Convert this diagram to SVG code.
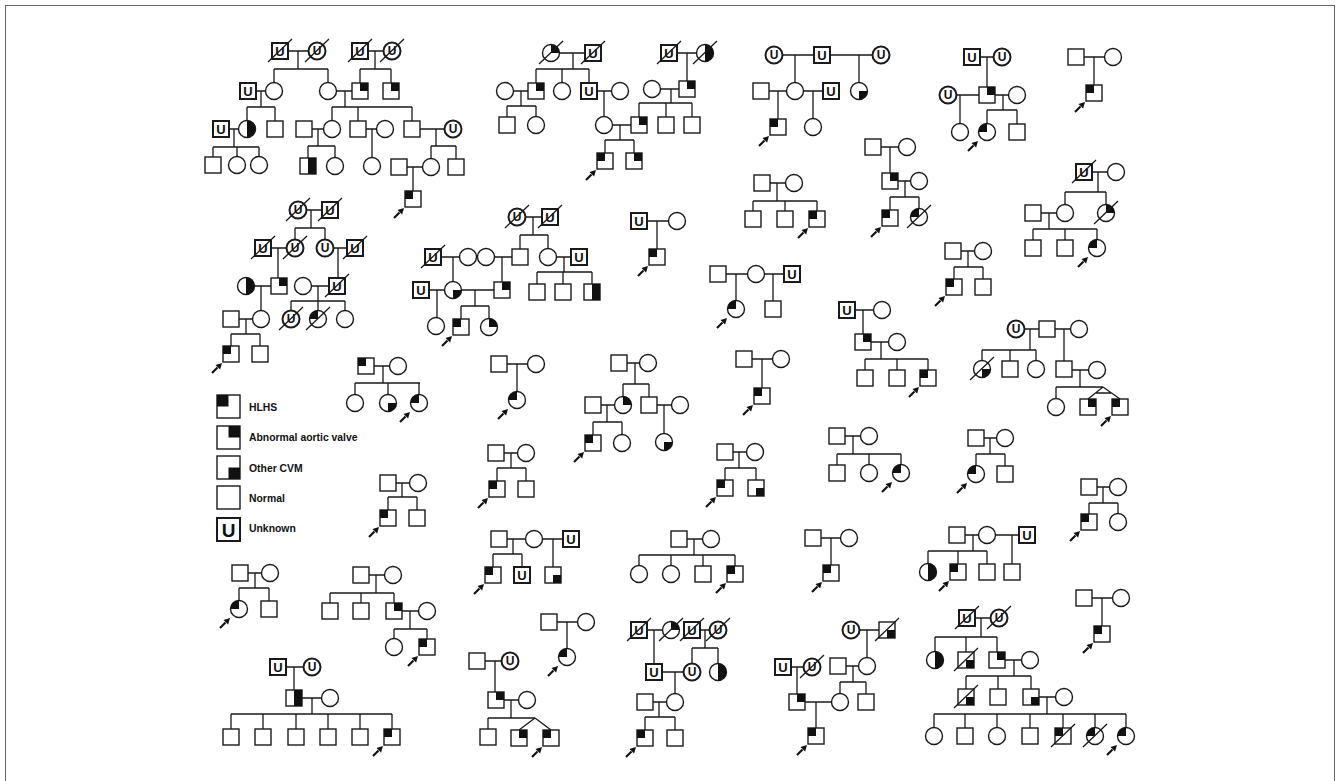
<svg xmlns="http://www.w3.org/2000/svg" width="1340" height="781" viewBox="0 0 1340 781">
<style>
.o{fill:#fff;stroke:#1a1a1a;stroke-width:1.4}
.ob{fill:#fff;stroke:#1a1a1a;stroke-width:2}
.k{fill:#111}
.l{fill:none;stroke:#1a1a1a;stroke-width:1.3}
.u{font-family:"Liberation Sans",Arial,sans-serif;font-weight:bold;fill:#111;text-anchor:middle}
.lg{font-family:"Liberation Sans",Arial,sans-serif;font-weight:bold;font-size:10.4px;fill:#111}
</style>
<defs>
<g id="S"><rect class="o" x="-8" y="-8" width="16" height="16"/></g>
<g id="C"><circle class="o" r="8.5"/></g>
<g id="SHL"><use href="#S"/><rect class="k" x="-8" y="-8" width="8" height="8"/></g>
<g id="SAV"><use href="#S"/><rect class="k" x="0" y="-8" width="8" height="8"/></g>
<g id="SOC"><use href="#S"/><rect class="k" x="0" y="0" width="8" height="8"/></g>
<g id="SHF"><use href="#S"/><rect class="k" x="0" y="-8" width="8" height="16"/></g>
<g id="CHL"><use href="#C"/><path class="k" d="M0,0H-8.5A8.5,8.5 0 0 1 0,-8.5Z"/></g>
<g id="CAV"><use href="#C"/><path class="k" d="M0,0V-8.5A8.5,8.5 0 0 1 8.5,0Z"/></g>
<g id="COC"><use href="#C"/><path class="k" d="M0,0H8.5A8.5,8.5 0 0 1 0,8.5Z"/></g>
<g id="CHF"><use href="#C"/><path class="k" d="M0,-8.5A8.5,8.5 0 0 1 0,8.5Z"/></g>
<g id="SU"><rect class="ob" x="-8" y="-8" width="16" height="16"/><text class="u" y="4.8" font-size="13">U</text></g>
<g id="CU"><circle class="ob" r="8.5"/><text class="u" y="4.3" font-size="12">U</text></g>
<g id="D"><line class="l" x1="-12" y1="11" x2="12" y2="-12"/></g>
<g id="A"><path d="M-19,19L-13.5,13.5" stroke="#111" stroke-width="2.2"/><polygon class="k" points="-9,9 -10.9,15.5 -15.5,10.9"/></g>
</defs>
<rect x="0" y="0" width="1340" height="781" fill="#fff"/>
<rect x="5.5" y="5.5" width="1329" height="800" fill="none" stroke="#666" stroke-width="1"/>

<g id="connectors" class="l">
<path id="c-A" d="M280,51H317M298,51V69M274,69H328M274,69V91M328,69V91M360,51H392M375,51V69M360,69H391M360,69V91M391,69V91M248,91H274M261,91V107M247,107H275M247,107V129M275,107V129M328,91H360M345,91V107M332,107H412M332,107V129M358,107V129M412,107V129M221,129H247M234,129V147M213,147H259M213,147V165M237,147V165M259,147V165M304,129H332M318,129V146M308,146H335M308,146V166M335,146V166M358,129H385M372,129V166M412,129H453M436,129V146M431,146H456M431,146V167M456,146V167M399,167H431M413,167V199"/>
<path id="c-B" d="M551,53H593M573,53V69M536,69H589M536,69V91M562,69V91M589,69V91M505,91H536M521,91V106M507,106H536M507,106V125M536,106V125M589,91H620M604,91V125M669,53H705M687,53V89M652,89H687M671,89V103M639,103H692M639,103V125M666,103V125M692,103V125M604,125H639M620,125V140M605,140H634M605,140V161M634,140V161"/>
<path id="c-C" d="M774,55H881M795,55V91M859,55V91M761,91H831M778,91V127M813,91V127"/>
<path id="c-D" d="M972,57H1002M987,57V95M948,95H1017M960,95V132M1003,95V110M987,110H1017M987,110V132M1017,110V132"/>
<path id="c-E" d="M1076,57H1113M1094,57V93"/>
<path id="c-F" d="M1084,172H1116M1098,172V192M1065,192H1106M1065,192V213M1106,192V213M1033,213H1065M1049,213V229M1033,229H1097M1033,229V248M1065,229V248M1097,229V248"/>
<path id="c-G" d="M762,183H794M777,183V201M753,201H817M753,201V219M785,201V219M817,201V219"/>
<path id="c-H" d="M873,147H907M890,147V181M890,181H919M905,181V197M890,197H919M890,197V218M919,197V217"/>
<path id="c-I" d="M298,210H330M311,210V228M295,228H325M295,228V248M325,228V248M263,248H295M278,248V286M325,248H355M338,248V286M246,286H279M261,286V319M303,286H337M318,286V301M291,301H345M291,301V319M318,301V319M345,301V319M231,319H261M246,319V334M231,334H260M231,334V354M260,334V354"/>
<path id="c-Ib" d="M517,217H550M533,217V235M520,235H548M520,235V257M548,235V257M433,257H468M453,257V290M486,257H520M502,257V290M548,257H579M564,257V272M537,272H592M537,272V292M563,272V292M592,272V292M421,290H502M437,290V326M475,290V306M461,306H489M461,306V327M489,306V327"/>
<path id="c-J" d="M639,221H677M657,221V257"/>
<path id="c-K" d="M718,274H792M736,274V309M773,274V309"/>
<path id="c-L" d="M847,310H882M863,310V342M863,342H897M881,342V359M865,359H928M865,359V378M897,359V378M928,359V378"/>
<path id="c-M" d="M744,359H781M762,359V396"/>
<path id="c-N" d="M725,452H755M739,452V468M725,468H756M725,468V488M756,468V488"/>
<path id="c-O" d="M837,436H869M853,436V454M837,454H901M837,454V473M869,454V473M901,454V473"/>
<path id="c-P" d="M1016,329H1079M1030,329V350M982,350H1036M982,350V369M1010,350V369M1036,350V369M1064,329V369M1064,370H1097M1080,370V387M1056,387H1103M1056,387V407M1103,387L1088,399M1103,387L1120,399M1096,393H1111"/>
<path id="c-Q" d="M976,438H1005M990,438V454M976,454H1005M976,454V474M1005,454V474"/>
<path id="c-R" d="M1089,487H1118M1103,487V503M1089,503H1118M1089,503V522M1118,503V522"/>
<path id="c-S" d="M953,251H983M968,251V267M954,267H983M954,267V287M983,267V287"/>
<path id="c-T" d="M499,364H536M517,364V400"/>
<path id="c-U" d="M619,363H648M635,363V384M623,384H649M623,384V405M649,384V405M593,405H623M649,405H680M607,405V422M593,422H622M593,422V443M622,422V443M664,405V442"/>
<path id="c-V" d="M496,453H526M511,453V468M497,468H526M497,468V489M526,468V489"/>
<path id="c-W" d="M366,366H398M383,366V383M355,383H420M355,383V403M388,383V403M419,383V403"/>
<path id="c-X" d="M388,483H418M402,483V497M388,497H417M388,497V518M417,497V518"/>
<path id="c-Y" d="M240,573H270M255,573V588M239,588H269M239,588V609M269,588V609"/>
<path id="c-Z" d="M361,575H393M376,575V593M330,593H394M330,593V611M361,593V611M394,593V611M394,611H427M410,611V629M394,629H427M394,629V647M427,629V647"/>
<path id="c-AA" d="M278,667H312M294,667V698M294,698H330M312,698V714M231,714H392M231,714V737M263,714V737M296,714V737M328,714V737M360,714V737M392,714V737"/>
<path id="c-AB" d="M499,539H571M513,539V554M493,554H522M493,554V575M522,554V575M553,539V575"/>
<path id="c-AC" d="M679,539H711M694,539V555M639,555H735M639,555V574M671,555V574M703,555V574M735,555V574"/>
<path id="c-AD" d="M813,538H849M831,538V573"/>
<path id="c-AE" d="M957,535H1027M973,535V551M928,551H987M928,551V572M958,551V572M987,551V572M1012,535V572"/>
<path id="c-AF" d="M1084,598H1121M1102,598V634"/>
<path id="c-AG" d="M967,618H999M981,618V637M935,637H997M935,637V660M966,637V660M997,637V660M997,660H1030M1014,660V676M966,676H1031M966,676V697M998,676V697M1031,676V697M1031,697H1064M1047,697V714M934,714H1126M934,714V736M965,714V736M997,714V736M1030,714V736M1063,714V736M1095,714V736M1126,714V736"/>
<path id="c-AH" d="M639,630H671M654,630V672M692,630H718M705,630V648M692,648H718M692,648V672M718,648V672M654,672H692M675,672V702M645,702H675M659,702V717M645,717H675M645,717V738M675,717V738"/>
<path id="c-AI" d="M477,661H510M495,661V700M496,700H527M511,700V718M488,718H535M488,718V737M535,718L519,730M535,718L551,730"/>
<path id="c-AJ" d="M549,622H586M567,622V657"/>
<path id="c-AK" d="M851,630H887M867,630V666M838,666H867M853,666V682M840,682H866M840,682V702M866,682V702M783,667H812M797,667V702M797,702H840M816,702V736"/>
</g>

<g id="ped-A">
<g id="a1" transform="translate(280,51)"><use href="#SU"/><use href="#D"/></g>
<g id="a2" transform="translate(317,51)"><use href="#CU"/><use href="#D"/></g>
<g id="a3" transform="translate(360,51)"><use href="#SU"/><use href="#D"/></g>
<g id="a4" transform="translate(392,51)"><use href="#CU"/><use href="#D"/></g>
<use id="a5" href="#SU" x="248" y="91"/>
<use id="a6" href="#C" x="274" y="91"/>
<use id="a7" href="#C" x="328" y="91"/>
<use id="a8" href="#SAV" x="360" y="91"/>
<use id="a9" href="#SAV" x="391" y="91"/>
<use id="a10" href="#SU" x="221" y="129"/>
<use id="a11" href="#CHF" x="247" y="129"/>
<use id="a12" href="#S" x="275" y="129"/>
<use id="a13" href="#S" x="304" y="129"/>
<use id="a14" href="#C" x="332" y="129"/>
<use id="a15" href="#S" x="358" y="129"/>
<use id="a16" href="#C" x="385" y="129"/>
<use id="a17" href="#S" x="412" y="129"/>
<use id="a18" href="#CU" x="453" y="129"/>
<use id="a19" href="#S" x="213" y="165"/>
<use id="a20" href="#C" x="237" y="165"/>
<use id="a21" href="#C" x="259" y="165"/>
<use id="a22" href="#SHF" x="308" y="166"/>
<use id="a23" href="#C" x="335" y="166"/>
<use id="a24" href="#C" x="372" y="166"/>
<use id="a25" href="#S" x="399" y="167"/>
<use id="a26" href="#C" x="431" y="167"/>
<use id="a27" href="#S" x="456" y="167"/>
<g id="a28" transform="translate(413,199)"><use href="#SHL"/><use href="#A"/></g>
</g>

<g id="ped-B">
<g id="b1" transform="translate(551,53)"><use href="#CAV"/><use href="#D"/></g>
<g id="b2" transform="translate(593,53)"><use href="#SU"/><use href="#D"/></g>
<use id="b3" href="#C" x="505" y="91"/>
<use id="b4" href="#SAV" x="536" y="91"/>
<use id="b5" href="#C" x="562" y="91"/>
<use id="b6" href="#SU" x="589" y="91"/>
<use id="b7" href="#C" x="620" y="91"/>
<use id="b8" href="#S" x="507" y="125"/>
<use id="b9" href="#C" x="536" y="125"/>
<use id="b10" href="#C" x="604" y="125"/>
<use id="b11" href="#SAV" x="639" y="125"/>
<use id="b12" href="#S" x="666" y="125"/>
<use id="b13" href="#S" x="692" y="125"/>
<g id="b14" transform="translate(605,161)"><use href="#SHL"/><use href="#A"/></g>
<use id="b15" href="#SAV" x="634" y="161"/>
<g id="b16" transform="translate(669,53)"><use href="#SU"/><use href="#D"/></g>
<g id="b17" transform="translate(705,53)"><use href="#CHF"/><use href="#D"/></g>
<use id="b18" href="#C" x="652" y="89"/>
<use id="b19" href="#SAV" x="687" y="89"/>
</g>

<g id="ped-C">
<use id="c1" href="#CU" x="774" y="55"/>
<use id="c2" href="#SU" x="822" y="55"/>
<use id="c3" href="#CU" x="881" y="55"/>
<use id="c4" href="#S" x="761" y="91"/>
<use id="c5" href="#C" x="795" y="91"/>
<use id="c6" href="#SU" x="831" y="91"/>
<use id="c7" href="#COC" x="859" y="91"/>
<g id="c8" transform="translate(778,127)"><use href="#SHL"/><use href="#A"/></g>
<use id="c9" href="#C" x="813" y="127"/>
</g>

<g id="ped-D">
<use id="d1" href="#SU" x="972" y="57"/>
<use id="d2" href="#CU" x="1002" y="57"/>
<use id="d3" href="#CU" x="948" y="95"/>
<use id="d4" href="#SAV" x="987" y="95"/>
<use id="d5" href="#C" x="1017" y="95"/>
<use id="d6" href="#C" x="960" y="132"/>
<g id="d7" transform="translate(987,132)"><use href="#CHL"/><use href="#A"/></g>
<use id="d8" href="#S" x="1017" y="132"/>
</g>

<g id="ped-E">
<use id="e1" href="#S" x="1076" y="57"/>
<use id="e2" href="#C" x="1113" y="57"/>
<g id="e3" transform="translate(1094,93)"><use href="#SHL"/><use href="#A"/></g>
</g>

<g id="ped-F">
<g id="f1" transform="translate(1084,172)"><use href="#SU"/><use href="#D"/></g>
<use id="f2" href="#C" x="1116" y="172"/>
<use id="f3" href="#S" x="1033" y="213"/>
<use id="f4" href="#C" x="1065" y="213"/>
<g id="f5" transform="translate(1106,213)"><use href="#CAV"/><use href="#D"/></g>
<use id="f6" href="#S" x="1033" y="248"/>
<use id="f7" href="#S" x="1065" y="248"/>
<g id="f8" transform="translate(1097,248)"><use href="#CHL"/><use href="#A"/></g>
</g>

<g id="ped-G">
<use id="g1" href="#S" x="762" y="183"/>
<use id="g2" href="#C" x="794" y="183"/>
<use id="g3" href="#S" x="753" y="219"/>
<use id="g4" href="#S" x="785" y="219"/>
<g id="g5" transform="translate(817,219)"><use href="#SHL"/><use href="#A"/></g>
</g>

<g id="ped-H">
<use id="h1" href="#S" x="873" y="147"/>
<use id="h2" href="#C" x="907" y="147"/>
<use id="h3" href="#SAV" x="890" y="181"/>
<use id="h4" href="#C" x="919" y="181"/>
<g id="h5" transform="translate(890,218)"><use href="#SHL"/><use href="#A"/></g>
<g id="h6" transform="translate(919,217)"><use href="#CHL"/><use href="#D"/></g>
</g>

<g id="ped-I">
<g id="i1" transform="translate(298,210)"><use href="#CU"/><use href="#D"/></g>
<g id="i2" transform="translate(330,210)"><use href="#SU"/><use href="#D"/></g>
<g id="i3" transform="translate(263,248)"><use href="#SU"/><use href="#D"/></g>
<g id="i4" transform="translate(295,248)"><use href="#CU"/><use href="#D"/></g>
<use id="i5" href="#CU" x="325" y="248"/>
<g id="i6" transform="translate(355,248)"><use href="#SU"/><use href="#D"/></g>
<use id="i7" href="#CHF" x="246" y="286"/>
<use id="i8" href="#SAV" x="279" y="286"/>
<use id="i9" href="#C" x="303" y="286"/>
<g id="i10" transform="translate(337,286)"><use href="#SU"/><use href="#D"/></g>
<use id="i11" href="#S" x="231" y="319"/>
<use id="i12" href="#C" x="261" y="319"/>
<g id="i13" transform="translate(291,319)"><use href="#CU"/><use href="#D"/></g>
<g id="i14" transform="translate(318,319)"><use href="#CHL"/><use href="#D"/></g>
<use id="i15" href="#C" x="345" y="319"/>
<g id="i16" transform="translate(231,354)"><use href="#SHL"/><use href="#A"/></g>
<use id="i17" href="#S" x="260" y="354"/>
</g>

<g id="ped-Ib">
<g id="ib1" transform="translate(517,217)"><use href="#CU"/><use href="#D"/></g>
<g id="ib2" transform="translate(550,217)"><use href="#SU"/><use href="#D"/></g>
<g id="ib3" transform="translate(433,257)"><use href="#SU"/><use href="#D"/></g>
<use id="ib4" href="#C" x="468" y="257"/>
<use id="ib5" href="#C" x="486" y="257"/>
<use id="ib6" href="#S" x="520" y="257"/>
<use id="ib7" href="#C" x="548" y="257"/>
<use id="ib8" href="#SU" x="579" y="257"/>
<use id="ib9" href="#SU" x="421" y="290"/>
<use id="ib10" href="#COC" x="453" y="290"/>
<use id="ib11" href="#SAV" x="502" y="290"/>
<use id="ib12" href="#S" x="537" y="292"/>
<use id="ib13" href="#S" x="563" y="292"/>
<use id="ib14" href="#SHF" x="592" y="292"/>
<use id="ib15" href="#C" x="436" y="326"/>
<g id="ib16" transform="translate(461,327)"><use href="#SHL"/><use href="#A"/></g>
<use id="ib17" href="#CAV" x="489" y="327"/>
</g>

<g id="ped-J">
<use id="j1" href="#SU" x="639" y="221"/>
<use id="j2" href="#C" x="677" y="221"/>
<g id="j3" transform="translate(657,257)"><use href="#SHL"/><use href="#A"/></g>
</g>

<g id="ped-K">
<use id="k1" href="#S" x="718" y="274"/>
<use id="k2" href="#C" x="756" y="274"/>
<use id="k3" href="#SU" x="792" y="274"/>
<g id="k4" transform="translate(736,309)"><use href="#CHL"/><use href="#A"/></g>
<use id="k5" href="#S" x="773" y="309"/>
</g>

<g id="ped-L">
<use id="l1" href="#SU" x="847" y="310"/>
<use id="l2" href="#C" x="882" y="310"/>
<use id="l3" href="#SAV" x="863" y="342"/>
<use id="l4" href="#C" x="897" y="342"/>
<use id="l5" href="#S" x="865" y="378"/>
<use id="l6" href="#S" x="897" y="378"/>
<g id="l7" transform="translate(928,378)"><use href="#SHL"/><use href="#A"/></g>
</g>

<g id="ped-M">
<use id="m1" href="#S" x="744" y="359"/>
<use id="m2" href="#C" x="781" y="359"/>
<g id="m3" transform="translate(762,396)"><use href="#SHL"/><use href="#A"/></g>
</g>

<g id="ped-N">
<use id="n1" href="#S" x="725" y="452"/>
<use id="n2" href="#C" x="755" y="452"/>
<g id="n3" transform="translate(725,488)"><use href="#SHL"/><use href="#A"/></g>
<use id="n4" href="#SOC" x="756" y="488"/>
</g>

<g id="ped-O">
<use id="o1" href="#S" x="837" y="436"/>
<use id="o2" href="#C" x="869" y="436"/>
<use id="o3" href="#S" x="837" y="473"/>
<use id="o4" href="#C" x="869" y="473"/>
<g id="o5" transform="translate(901,473)"><use href="#CHL"/><use href="#A"/></g>
</g>

<g id="ped-P">
<use id="p1" href="#CU" x="1016" y="329"/>
<use id="p2" href="#S" x="1047" y="329"/>
<use id="p3" href="#C" x="1079" y="329"/>
<g id="p4" transform="translate(982,369)"><use href="#COC"/><use href="#D"/></g>
<use id="p5" href="#S" x="1010" y="369"/>
<use id="p6" href="#C" x="1036" y="369"/>
<use id="p7" href="#S" x="1064" y="369"/>
<use id="p8" href="#C" x="1097" y="370"/>
<use id="p9" href="#C" x="1056" y="407"/>
<use id="p10" href="#SAV" x="1088" y="407"/>
<g id="p11" transform="translate(1120,407)"><use href="#SHL"/><use href="#A"/></g>
</g>

<g id="ped-Q">
<use id="q1" href="#S" x="976" y="438"/>
<use id="q2" href="#C" x="1005" y="438"/>
<g id="q3" transform="translate(976,474)"><use href="#CHL"/><use href="#A"/></g>
<use id="q4" href="#S" x="1005" y="474"/>
</g>

<g id="ped-R">
<use id="r1" href="#S" x="1089" y="487"/>
<use id="r2" href="#C" x="1118" y="487"/>
<g id="r3" transform="translate(1089,522)"><use href="#SHL"/><use href="#A"/></g>
<use id="r4" href="#C" x="1118" y="522"/>
</g>

<g id="ped-S">
<use id="s1" href="#S" x="953" y="251"/>
<use id="s2" href="#C" x="983" y="251"/>
<g id="s3" transform="translate(954,287)"><use href="#SHL"/><use href="#A"/></g>
<use id="s4" href="#S" x="983" y="287"/>
</g>

<g id="ped-T">
<use id="t1" href="#S" x="499" y="364"/>
<use id="t2" href="#C" x="536" y="364"/>
<g id="t3" transform="translate(517,400)"><use href="#CHL"/><use href="#A"/></g>
</g>

<g id="ped-U">
<use id="u1" href="#S" x="619" y="363"/>
<use id="u2" href="#C" x="648" y="363"/>
<use id="u3" href="#S" x="593" y="405"/>
<use id="u4" href="#CAV" x="623" y="405"/>
<use id="u5" href="#S" x="649" y="405"/>
<use id="u6" href="#C" x="680" y="405"/>
<g id="u7" transform="translate(593,443)"><use href="#SHL"/><use href="#A"/></g>
<use id="u8" href="#C" x="622" y="443"/>
<use id="u9" href="#COC" x="664" y="442"/>
</g>

<g id="ped-V">
<use id="v1" href="#S" x="496" y="453"/>
<use id="v2" href="#C" x="526" y="453"/>
<g id="v3" transform="translate(497,489)"><use href="#SHL"/><use href="#A"/></g>
<use id="v4" href="#S" x="526" y="489"/>
</g>

<g id="ped-W">
<use id="w1" href="#SHL" x="366" y="366"/>
<use id="w2" href="#C" x="398" y="366"/>
<use id="w3" href="#C" x="355" y="403"/>
<use id="w4" href="#COC" x="388" y="403"/>
<g id="w5" transform="translate(419,403)"><use href="#CHL"/><use href="#A"/></g>
</g>

<g id="ped-X">
<use id="x1" href="#S" x="388" y="483"/>
<use id="x2" href="#C" x="418" y="483"/>
<g id="x3" transform="translate(388,518)"><use href="#SHL"/><use href="#A"/></g>
<use id="x4" href="#S" x="417" y="518"/>
</g>

<g id="ped-Y">
<use id="y1" href="#S" x="240" y="573"/>
<use id="y2" href="#C" x="270" y="573"/>
<g id="y3" transform="translate(239,609)"><use href="#CHL"/><use href="#A"/></g>
<use id="y4" href="#S" x="269" y="609"/>
</g>

<g id="ped-Z">
<use id="z1" href="#S" x="361" y="575"/>
<use id="z2" href="#C" x="393" y="575"/>
<use id="z3" href="#S" x="330" y="611"/>
<use id="z4" href="#S" x="361" y="611"/>
<use id="z5" href="#SAV" x="394" y="611"/>
<use id="z6" href="#C" x="427" y="611"/>
<use id="z7" href="#C" x="394" y="647"/>
<g id="z8" transform="translate(427,647)"><use href="#SHL"/><use href="#A"/></g>
</g>

<g id="ped-AA">
<use id="aa1" href="#SU" x="278" y="667"/>
<use id="aa2" href="#CU" x="312" y="667"/>
<use id="aa3" href="#SHF" x="294" y="698"/>
<use id="aa4" href="#C" x="330" y="698"/>
<use id="aa5" href="#S" x="231" y="737"/>
<use id="aa6" href="#S" x="263" y="737"/>
<use id="aa7" href="#S" x="296" y="737"/>
<use id="aa8" href="#S" x="328" y="737"/>
<use id="aa9" href="#S" x="360" y="737"/>
<g id="aa10" transform="translate(392,737)"><use href="#SHL"/><use href="#A"/></g>
</g>

<g id="ped-AB">
<use id="ab1" href="#S" x="499" y="539"/>
<use id="ab2" href="#C" x="534" y="539"/>
<use id="ab3" href="#SU" x="571" y="539"/>
<g id="ab4" transform="translate(493,575)"><use href="#SHL"/><use href="#A"/></g>
<use id="ab5" href="#SU" x="522" y="575"/>
<use id="ab6" href="#SOC" x="553" y="575"/>
</g>

<g id="ped-AC">
<use id="ac1" href="#S" x="679" y="539"/>
<use id="ac2" href="#C" x="711" y="539"/>
<use id="ac3" href="#C" x="639" y="574"/>
<use id="ac4" href="#C" x="671" y="574"/>
<use id="ac5" href="#S" x="703" y="574"/>
<g id="ac6" transform="translate(735,574)"><use href="#SHL"/><use href="#A"/></g>
</g>

<g id="ped-AD">
<use id="ad1" href="#S" x="813" y="538"/>
<use id="ad2" href="#C" x="849" y="538"/>
<g id="ad3" transform="translate(831,573)"><use href="#SHL"/><use href="#A"/></g>
</g>

<g id="ped-AE">
<use id="ae1" href="#S" x="957" y="535"/>
<use id="ae2" href="#C" x="987" y="535"/>
<use id="ae3" href="#SU" x="1027" y="535"/>
<use id="ae4" href="#CHF" x="928" y="572"/>
<g id="ae5" transform="translate(958,572)"><use href="#SHL"/><use href="#A"/></g>
<use id="ae6" href="#S" x="987" y="572"/>
<use id="ae7" href="#S" x="1012" y="572"/>
</g>

<g id="ped-AF">
<use id="af1" href="#S" x="1084" y="598"/>
<use id="af2" href="#C" x="1121" y="598"/>
<g id="af3" transform="translate(1102,634)"><use href="#SHL"/><use href="#A"/></g>
</g>

<g id="ped-AG">
<g id="ag1" transform="translate(967,618)"><use href="#SU"/><use href="#D"/></g>
<g id="ag2" transform="translate(999,618)"><use href="#CU"/><use href="#D"/></g>
<use id="ag3" href="#CHF" x="935" y="660"/>
<g id="ag4" transform="translate(966,660)"><use href="#SOC"/><use href="#D"/></g>
<use id="ag5" href="#SAV" x="997" y="660"/>
<use id="ag6" href="#C" x="1030" y="660"/>
<g id="ag7" transform="translate(966,697)"><use href="#SOC"/><use href="#D"/></g>
<use id="ag8" href="#S" x="998" y="697"/>
<use id="ag9" href="#SOC" x="1031" y="697"/>
<use id="ag10" href="#C" x="1064" y="697"/>
<use id="ag11" href="#C" x="934" y="736"/>
<use id="ag12" href="#S" x="965" y="736"/>
<use id="ag13" href="#C" x="997" y="736"/>
<use id="ag14" href="#S" x="1030" y="736"/>
<g id="ag15" transform="translate(1063,736)"><use href="#SHL"/><use href="#D"/></g>
<g id="ag16" transform="translate(1095,736)"><use href="#CHL"/><use href="#D"/></g>
<g id="ag17" transform="translate(1126,736)"><use href="#CHL"/><use href="#A"/></g>
</g>

<g id="ped-AH">
<g id="ah1" transform="translate(639,630)"><use href="#SU"/><use href="#D"/></g>
<g id="ah2" transform="translate(671,630)"><use href="#CAV"/><use href="#D"/></g>
<g id="ah3" transform="translate(692,630)"><use href="#SU"/><use href="#D"/></g>
<g id="ah4" transform="translate(718,630)"><use href="#CU"/><use href="#D"/></g>
<use id="ah5" href="#SU" x="654" y="672"/>
<use id="ah6" href="#CU" x="692" y="672"/>
<use id="ah7" href="#CHF" x="718" y="672"/>
<use id="ah8" href="#S" x="645" y="702"/>
<use id="ah9" href="#C" x="675" y="702"/>
<g id="ah10" transform="translate(645,738)"><use href="#SHL"/><use href="#A"/></g>
<use id="ah11" href="#S" x="675" y="738"/>
</g>

<g id="ped-AI">
<use id="ai1" href="#S" x="477" y="661"/>
<use id="ai2" href="#CU" x="510" y="661"/>
<use id="ai3" href="#SAV" x="496" y="700"/>
<use id="ai4" href="#C" x="527" y="700"/>
<use id="ai5" href="#S" x="488" y="737"/>
<use id="ai6" href="#SAV" x="519" y="738"/>
<g id="ai7" transform="translate(551,738)"><use href="#SHL"/><use href="#A"/></g>
</g>

<g id="ped-AJ">
<use id="aj1" href="#S" x="549" y="622"/>
<use id="aj2" href="#C" x="586" y="622"/>
<g id="aj3" transform="translate(567,657)"><use href="#CHL"/><use href="#A"/></g>
</g>

<g id="ped-AK">
<use id="ak1" href="#CU" x="851" y="630"/>
<g id="ak2" transform="translate(887,630)"><use href="#SOC"/><use href="#D"/></g>
<use id="ak3" href="#S" x="838" y="666"/>
<use id="ak4" href="#C" x="867" y="666"/>
<use id="ak5" href="#SU" x="783" y="667"/>
<g id="ak6" transform="translate(812,667)"><use href="#CU"/><use href="#D"/></g>
<use id="ak7" href="#SAV" x="797" y="702"/>
<use id="ak8" href="#C" x="840" y="702"/>
<use id="ak9" href="#S" x="866" y="702"/>
<g id="ak10" transform="translate(816,736)"><use href="#SHL"/><use href="#A"/></g>
</g>

<g id="legend">
<rect class="o" x="217" y="395" width="23" height="23"/><rect class="k" x="217" y="395" width="11.5" height="11.5"/>
<text class="lg" x="249" y="410.5">HLHS</text>
<rect class="o" x="217" y="426" width="23" height="23"/><rect class="k" x="228.5" y="426" width="11.5" height="11.5"/>
<text class="lg" x="249" y="441">Abnormal aortic valve</text>
<rect class="o" x="217" y="456" width="23" height="23"/><rect class="k" x="228.5" y="467.5" width="11.5" height="11.5"/>
<text class="lg" x="249" y="472">Other CVM</text>
<rect class="o" x="217" y="486" width="23" height="23"/>
<text class="lg" x="249" y="502">Normal</text>
<rect class="ob" x="217" y="518" width="23" height="23"/>
<text class="u" x="228.5" y="536.5" font-size="19">U</text>
<text class="lg" x="249" y="532">Unknown</text>
</g>
</svg>
